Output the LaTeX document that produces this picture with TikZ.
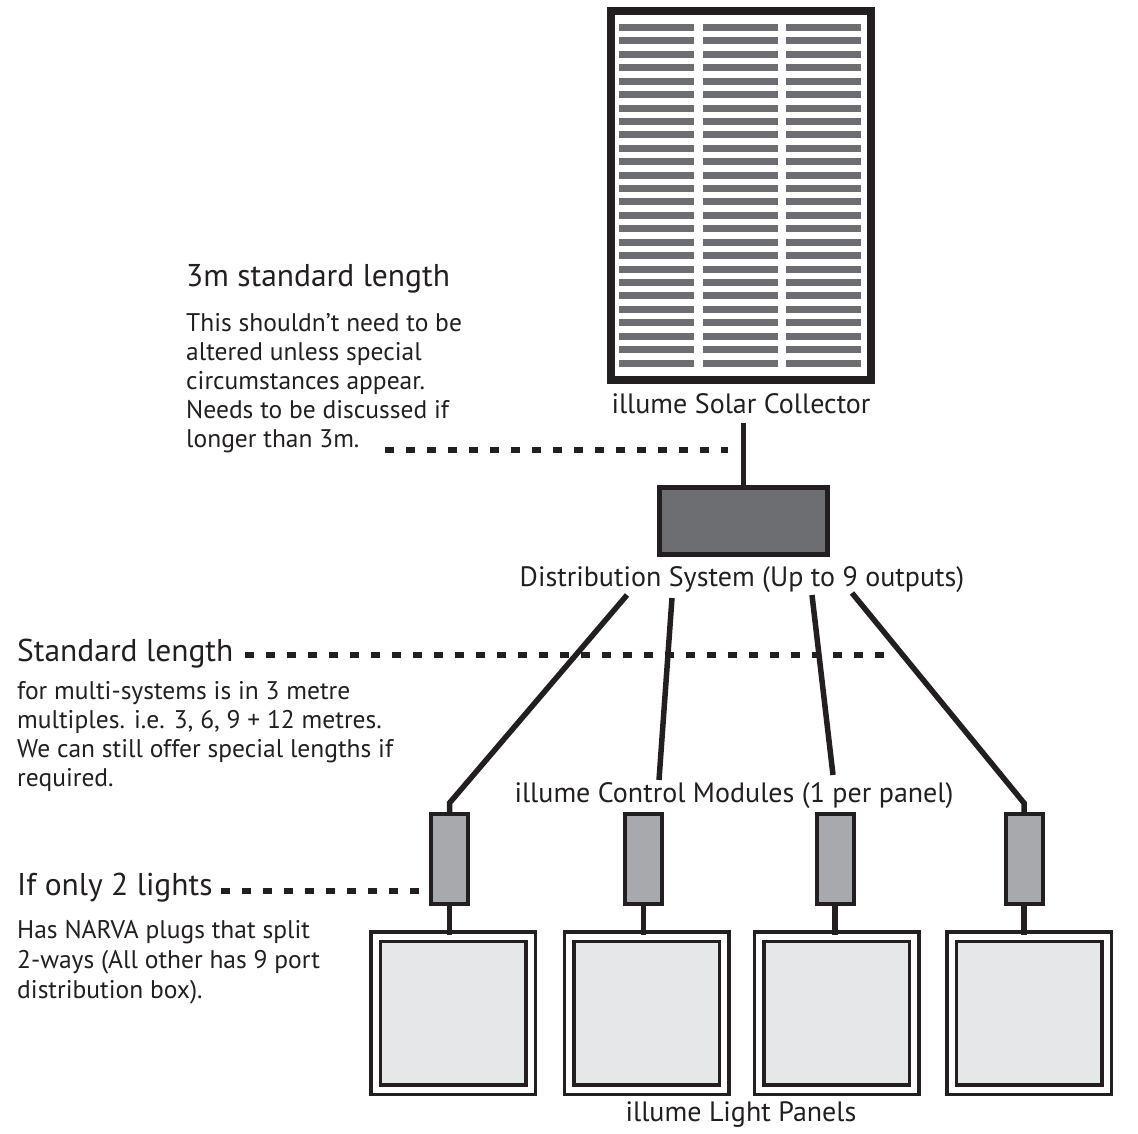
\documentclass[tikz,border=0pt]{standalone}
\usepackage{fontspec}
\setmainfont{PT Sans}
\usetikzlibrary{positioning}

\definecolor{ink}{HTML}{231F20}
\definecolor{darkgrey}{HTML}{6D6E71}
\definecolor{modgrey}{HTML}{A7A9AC}
\definecolor{panelgrey}{HTML}{E6E7E8}

\begin{document}
\begin{tikzpicture}[
x=1pt, y=-1pt,
wire/.style={
  draw=ink,
  line width=5.5
  },
leader/.style={
  draw=ink,
  line width=5.5,
  dash pattern=on 8.5pt off 12.5pt
  },
solar/.style={
  draw=ink,
  fill=white,
  line width=8,
  minimum width=260,
  minimum height=369,
  inner sep=0pt
  },
stripe/.style={
  fill=darkgrey
  },
distbox/.style={
  draw=ink,
  fill=darkgrey,
  line width=5,
  minimum width=168,
  minimum height=67,
  inner sep=0pt
  },
module/.style={
  draw=ink,
  fill=modgrey,
  line width=4,
  minimum width=37,
  minimum height=90,
  inner sep=0pt
  },
panel/.style={
  draw=ink,
  fill=panelgrey,
  line width=3.5,
  double=white,
  double distance=6,
  minimum width=155,
  minimum height=153,
  inner sep=0pt
  },
lbl/.style={
  text=ink,
  inner sep=0pt,
  font=\fontsize{28}{30}\selectfont
  },
head/.style={
  text=ink,
  inner sep=0pt,
  anchor=west,
  font=\fontsize{31.5}{34}\selectfont
  },
body/.style={
  text=ink,
  inner sep=0pt,
  anchor=base west,
  align=left,
  font=\fontsize{25.5}{28.8}\selectfont
  }
]
\useasboundingbox (0,0) rectangle (1138,1134);

% solar collector
\node[solar] (sol) at (741,195.5) {};
\foreach \r in {0,...,25}
  \foreach \cx in {619,703,786}
    \fill[stripe] ({\cx},{24+13.42*\r}) rectangle ++(75,7);
\node[lbl] (sollbl) at (741,404) {illume Solar Collector};

% distribution
\node[distbox] (dist) at (743.5,521) {};
\node[lbl] (distlbl) at (742,580) {Distribution System (Up to 9 outputs)};
\coordinate (solfeed) at (743.5,423);
\draw[wire] (solfeed) -- (dist.north);

% control modules and light panels
\foreach \mx/\px [count=\i] in {449.5/453, 643.5/646.5, 835/836.5, 1024/1029}
{
  \node[module] (mod\i) at (\mx,859) {};
  \node[panel] (pan\i) at (\px,1013) {};
  \draw[wire] (mod\i.south) -- (mod\i.south |- pan\i.north);
}
\node[lbl] (modlbl) at (734,796) {illume Control Modules (1 per panel)};
\node[lbl] (panlbl) at (741,1115) {illume Light Panels};

% outputs
\coordinate (out1) at (627,595);
\coordinate (out2) at (672,598);
\coordinate (out3) at (812,595);
\coordinate (out4) at (852,593);
\coordinate (end2) at (659,780);
\coordinate (end3) at (833,775);
\draw[wire] (out1) -- ([yshift=9]mod1.north) -- (mod1.north);
\draw[wire] (out2) -- (end2);
\draw[wire] (out3) -- (end3);
\draw[wire] (out4) -- ([yshift=9]mod4.north) -- (mod4.north);

% notes (body nodes sit on the baseline of their last line)
\node[head] (h3m) at (186,279) {3m standard length};
\node[body] (b3m) at (186,447) {This shouldn’t need to be\\altered unless special\\circumstances appear.\\Needs to be discussed if\\longer than 3m.};
\coordinate (d3ma) at (385,450);
\coordinate (d3mb) at (728,450);
\draw[leader] (d3ma) -- (d3mb);

\node[head] (hstd) at (17,654) {Standard length};
\node[body] (bstd) at (17,786) {for multi-systems is in 3 metre\\multiples. i.e. 3, 6, 9 + 12 metres.\\We can still offer special lengths if\\required.};
\coordinate (dstda) at (245,655);
\coordinate (dstdb) at (893,655);
\draw[leader] (dstda) -- (dstdb);

\node[head] (htwo) at (17,888) {If only 2 lights};
\node[body, font=\fontsize{25.5}{30}\selectfont] (btwo) at (17,998) {Has NARVA plugs that split\\2-ways (All other has 9 port\\distribution box).};
\coordinate (dtwoa) at (221,891);
\draw[leader] (dtwoa) -- (dtwoa -| mod1.west);
\end{tikzpicture}
\end{document}
